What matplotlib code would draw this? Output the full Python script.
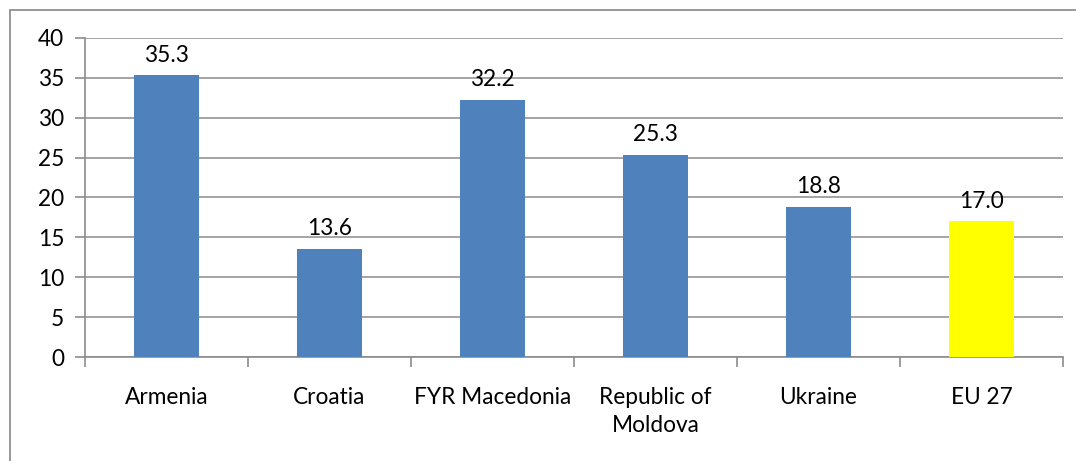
import matplotlib
matplotlib.use("Agg")
import matplotlib.pyplot as plt
from matplotlib.patches import Rectangle

categories = ["Armenia", "Croatia", "FYR Macedonia", "Republic of\nMoldova", "Ukraine", "EU 27"]
values = [35.3, 13.6, 32.2, 25.3, 18.8, 17.0]
bar_colors = ["#4F81BD", "#4F81BD", "#4F81BD", "#4F81BD", "#4F81BD", "#FFFF00"]
yticks = [0, 5, 10, 15, 20, 25, 30, 35, 40]

plt.rcParams['font.family'] = ['Lato', 'DejaVu Sans']
FS = 16.3
W, H = 1076, 461
fig = plt.figure(figsize=(W / 100, H / 100), dpi=100)
fig.patch.set_facecolor("white")

# outer chart border (left/top visible)
fig.add_artist(Rectangle((9.5 / W, -0.1), 1.2, (H - 10) / H + 0.1, transform=fig.transFigure,
                         fill=False, edgecolor="#888888", linewidth=1.2))

ax = fig.add_axes([85 / W, 1 - 357 / H, (1063 - 85) / W, (357 - 38) / H])
x = list(range(len(categories)))
ax.bar(x, values, width=0.4, color=bar_colors, zorder=3)
ax.set_xlim(-0.5, len(categories) - 0.5)
ax.set_ylim(0, 40)
ax.set_yticks(yticks)
ax.set_yticklabels([str(v) for v in yticks], fontsize=FS)
ax.yaxis.grid(True, color="#8c8c8c", linewidth=1.1, zorder=0)
ax.set_axisbelow(True)
for s in ["top", "right"]:
    ax.spines[s].set_visible(False)
for s in ["left", "bottom"]:
    ax.spines[s].set_color("#8c8c8c")
    ax.spines[s].set_linewidth(1.2)
ax.tick_params(axis="y", length=7, width=1.2, color="#8c8c8c", pad=8)
ax.set_xticks([i - 0.5 for i in range(len(categories) + 1)])
ax.set_xticklabels([])
ax.tick_params(axis="x", length=7, width=1.2, color="#8c8c8c")
for i, c in enumerate(categories):
    ax.text(i, -3.7, c, ha="center", va="top", fontsize=FS, linespacing=1.47)
for i, v in enumerate(values):
    ax.annotate(f"{v:.1f}", (i, v), xytext=(0, 10), textcoords="offset points",
                ha="center", va="baseline", fontsize=FS)

fig.savefig("out.png", dpi=100)
